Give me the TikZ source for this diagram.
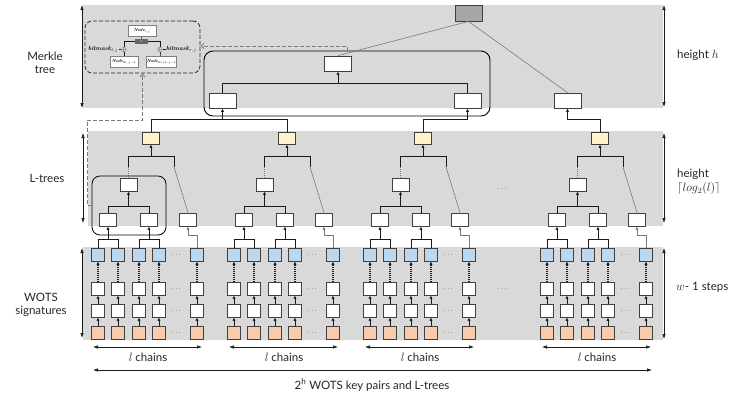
\documentclass[tikz,border=0pt]{standalone}
\usepackage{amsmath}
\usepackage{fontspec}
\newfontfamily\labfont{Lato}
\usetikzlibrary{arrows.meta,calc}
\definecolor{bandc}{HTML}{D9D9D9}
\definecolor{bordc}{HTML}{404040}
\definecolor{bluc}{HTML}{BDD7EE}
\definecolor{orac}{HTML}{F8CBAD}
\definecolor{yelc}{HTML}{FFF2CC}
\definecolor{rootc}{HTML}{A6A6A6}
\definecolor{linc}{HTML}{1A1A1A}
\definecolor{lgrc}{HTML}{7A7A7A}
\newcommand{\insetnode}[1]{\scalebox{0.62}{\fontsize{7}{8}\selectfont\textbf{\textit{Node}}$_{#1}$}}
\newcommand{\insetmask}[1]{\scalebox{0.8}{\fontsize{7.5}{8}\selectfont\textbf{\textit{bitmask}}$_{#1}$}}
\begin{document}
\begin{tikzpicture}[x=1pt,y=-1pt,
  sq/.style={draw=bordc,line width=0.8pt,minimum width=13pt,minimum height=13pt,inner sep=0pt},
  lbox/.style={draw=bordc,line width=0.8pt,fill=white,minimum width=17pt,minimum height=13pt,inner sep=0pt},
  mbox/.style={draw=bordc,line width=0.8pt,fill=white,minimum width=27pt,minimum height=15pt,inner sep=0pt},
  arr/.style={-{Latex[length=3.5pt,width=3.2pt]}},
  dimarr/.style={{Latex[length=5pt,width=3.5pt]}-{Latex[length=5pt,width=3.5pt]},line width=0.6pt,draw=linc},
  conn/.style={line width=0.8pt,draw=linc},
  graylink/.style={line width=0.6pt,draw=lgrc},
  dotc/.style={line width=1.1pt,draw=linc,dash pattern=on 1pt off 1pt},
  dashlink/.style={line width=0.8pt,draw=lgrc,dash pattern=on 4pt off 2pt,-{Straight Barb[length=3pt,width=5pt]}},
  dotlbl/.style={inner sep=0pt,font=\scriptsize,text=linc},
  lab/.style={font=\labfont\fontsize{11.5}{13.5}\selectfont,text=black!85,inner sep=0pt},
  ibox/.style={draw=gray,fill=white,line width=0.5pt,minimum width=28pt,minimum height=11pt,inner sep=0.3pt},
  ilab/.style={inner sep=0.3pt}
]
\useasboundingbox (0,0) rectangle (732,397);
% bands
\fill[bandc] (83,5) rectangle (663,108);
\fill[bandc] (88,131) rectangle (663,226);
\fill[bandc] (83,247) rectangle (663,340);

% dimension arrows
\coordinate (lm1) at (82,5);   \coordinate (lm2) at (82,108);
\coordinate (ll1) at (83,133); \coordinate (ll2) at (83,223);
\coordinate (lw1) at (82,248); \coordinate (lw2) at (82,338);
\coordinate (rm1) at (664,5);   \coordinate (rm2) at (664,107);
\coordinate (rl1) at (664,133); \coordinate (rl2) at (664,223);
\coordinate (rw1) at (664,248); \coordinate (rw2) at (664,339);
\draw[dimarr] (lm1) -- (lm2);
\draw[dimarr] (ll1) -- (ll2);
\draw[dimarr] (lw1) -- (lw2);
\draw[dimarr] (rm1) -- (rm2);
\draw[dimarr] (rl1) -- (rl2);
\draw[dimarr] (rw1) -- (rw2);

% side labels
\node[lab,align=center] (tmerkle) at (45,63) {Merkle\\tree};
\node[lab] (tltree) at (47,178) {L-trees};
\node[lab,align=center] (twots) at (41,305) {WOTS\\signatures};
\node[lab,anchor=west] (th) at (677,55) {height $h$};
\node[lab,anchor=west,align=left] (tlog) at (677,182) {height\\[1pt]$\lceil log_2(l)\rceil$};
\node[lab,anchor=west] (tw) at (676,287) {$w$- 1 steps};

% groups
\foreach \g/\b in {1/98,2/234,3/370,4/547}{
  \foreach \i/\o in {1/0,2/20,3/41,4/61,5/99}{
    \node[sq,fill=bluc] (bl\g-\i) at (\b+\o,254.5) {};
    \node[sq,fill=white] (wa\g-\i) at (\b+\o,288.5) {};
    \node[sq,fill=white] (wb\g-\i) at (\b+\o,310.5) {};
    \node[sq,fill=orac] (or\g-\i) at (\b+\o,333) {};
    \draw[conn,arr] (or\g-\i) -- (wb\g-\i);
    \draw[conn,arr] (wb\g-\i) -- (wa\g-\i);
    \draw[dotc,arr] (wa\g-\i) -- (bl\g-\i);
  }
  \foreach \r/\y in {a/254.5,b/288.5,c/310.5,d/333}{
    \node[dotlbl] (dt\g\r) at (\b+79,\y) {$\cdots$};
  }
  % L-tree nodes
  \node[lbox] (lf\g-1) at (\b+10,219.5) {};
  \node[lbox] (lf\g-2) at (\b+51,219.5) {};
  \node[lbox] (lf\g-3) at (\b+90,219.5) {};
  \node[lbox] (la\g) at (\b+30.5,184.5) {};
  \node[lbox,fill=yelc,minimum height=12pt] (yr\g) at (\b+53,138) {};
  % chain ends to leaves
  \draw[conn] (bl\g-1.north) |- (bl\g-2.north |- 0,239) -- (bl\g-2.north);
  \draw[conn,arr] (lf\g-1.south |- 0,239) -- (lf\g-1.south);
  \draw[conn] (bl\g-3.north) |- (bl\g-4.north |- 0,239) -- (bl\g-4.north);
  \draw[conn,arr] (lf\g-2.south |- 0,239) -- (lf\g-2.south);
  \draw[graylink,arr] (bl\g-5.north) |- (lf\g-3.south |- 0,235) -- (lf\g-3.south);
  % leaves to level 1
  \draw[conn] (lf\g-1.north) |- (lf\g-2.north |- 0,206) -- (lf\g-2.north);
  \draw[conn,arr] (la\g.south |- 0,206) -- (la\g.south);
  % level 1 to root
  \coordinate (rb\g) at (\b+76,156);
  \coordinate (rc\g) at (\b+76,167);
  \draw[conn] (la\g.north |- 0,167) -- (la\g.north |- 0,156) -- (rb\g) -- (rc\g);
  \draw[conn,dash pattern=on 1pt off 1pt,draw=lgrc] (la\g.north |- 0,167) -- (la\g.north);
  \draw[graylink] (rc\g) -- (lf\g-3.north);
  \draw[conn,arr] (yr\g.south |- 0,156) -- (yr\g.south);
  % chains label
  \coordinate (ca\g) at (\b-5,347);
  \coordinate (cb\g) at (\b+104,347);
  \draw[dimarr] (ca\g) -- (cb\g);
  \node[lab] (lc\g) at (\b+50,357) {$l$ chains};
}
\node[dotlbl] (gapl) at (503,189) {$\cdots$};
\node[dotlbl] (gapw) at (503,289) {$\cdots$};

% bottom total
\coordinate (ta) at (93,370);
\coordinate (tb) at (652,370);
\draw[dimarr] (ta) -- (tb);
\node[lab] (ttot) at (372,385) {2\textsuperscript{h} WOTS key pairs and L-trees};

% L-tree highlight group
\node[draw=black,line width=0.8pt,rounded corners=8pt,minimum width=74pt,minimum height=59pt,inner sep=0pt] (lgrp) at (129,205.5) {};

% Merkle tree
\node[mbox,fill=rootc,minimum height=16pt] (rt) at (468.5,13) {};
\node[mbox] (mt) at (338,63.5) {};
\node[mbox] (m1) at (222.5,100.5) {};
\node[mbox] (m2) at (467.5,100.5) {};
\node[mbox] (m3) at (567.5,100.5) {};
\node[draw=black,line width=0.9pt,rounded corners=9pt,minimum width=286pt,minimum height=65pt,inner sep=0pt] (mgrp) at (347,83.5) {};

\draw[conn] (yr1.north) |- (yr2.north |- 0,119.5) -- (yr2.north);
\draw[conn,arr] (m1.south |- 0,119.5) -- (m1.south);
\draw[conn,arr] (yr3.north) |- (m2.south |- 0,119.5) -- (m2.south);
\draw[conn,arr] (yr4.north) |- (m3.south |- 0,119.5) -- (m3.south);
\draw[conn] (m1.north) |- (m2.north |- 0,83) -- (m2.north);
\draw[conn,arr] (mt.south |- 0,83) -- (mt.south);
\draw[graylink] (rt.south) -- (mt.north);
\draw[graylink] (rt.south) -- (m3.north);

% inset
\node[draw=black!85,dash pattern=on 4pt off 2pt,rounded corners=7pt,line width=0.8pt,minimum width=115pt,minimum height=52pt,inner sep=0pt] (inset) at (142.5,47) {};
\node[ibox] (nij) at (142,31) {\insetnode{i,j}};
\node[ibox] (nl) at (124,62) {\insetnode{2i,j-1}};
\node[ibox] (nr) at (161.5,62) {\insetnode{2i+1,j-1}};
\node[inner sep=0pt,font=\fontsize{6}{6}\selectfont] (xl) at (124,49.5) {$\oplus$};
\node[inner sep=0pt,font=\fontsize{6}{6}\selectfont] (xr) at (160,49.5) {$\oplus$};
\draw[line width=0.6pt,draw=linc] (xl.north) |- (xr.north |- 0,41.5) -- (xr.north);
\node[fill=gray!80!black,minimum width=13pt,minimum height=5pt,inner sep=0pt,text=white] (hb) at (141.5,41.5) {\scalebox{0.5}{\fontsize{7}{7}\selectfont$h$}};
\draw[line width=0.6pt,draw=linc] (hb) -- (nij);
\draw[line width=0.6pt,draw=linc] (xl) -- (nl);
\draw[line width=0.6pt,draw=linc] (xr) -- (nr);
\node[ilab,anchor=east] (bml) at (118.5,49.5) {\insetmask{l,j}};
\node[ilab,anchor=west] (bmr) at (165.5,49.5) {\insetmask{r,j}};
\draw[line width=0.5pt,draw=linc] (bml) -- (xl);
\draw[line width=0.5pt,draw=linc] (xr) -- (bmr);

% dashed references
\draw[dashlink] (mgrp.north) -- (mgrp.north |- 0,46) -- (inset.east |- 0,46);
\draw[dashlink] (lgrp.west) -- (87,205.5) -- (87,120) -- (inset.south |- 0,120) -- (inset.south);
\end{tikzpicture}
\end{document}
